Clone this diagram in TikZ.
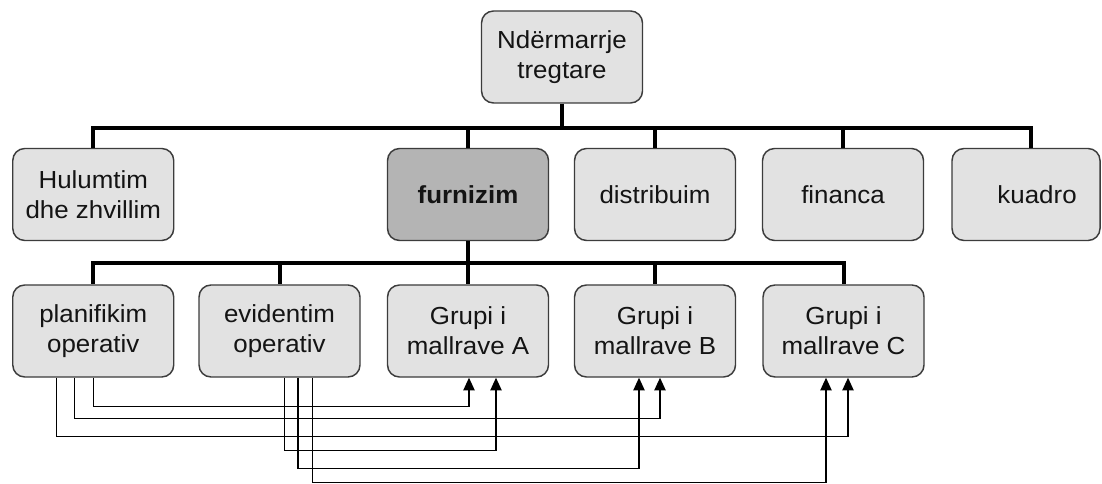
\documentclass[tikz,border=0pt]{standalone}
\usepackage{fontspec}
\setmainfont{Liberation Sans}[FakeStretch=1.05]
\usetikzlibrary{arrows.meta,calc}
\definecolor{boxfill}{HTML}{E2E2E2}
\definecolor{darkfill}{HTML}{B4B4B4}
\definecolor{edgecol}{HTML}{3C3C3C}
\begin{document}
\begin{tikzpicture}[x=0.75pt,y=-0.75pt,
  box/.style={draw=edgecol, line width=1.1pt, fill=boxfill, rounded corners=9pt,
    align=center, inner sep=0pt, minimum width=120.75pt, minimum height=69pt,
    font=\fontsize{18.5}{22.5}\selectfont, text=black!92},
  treeline/.style={line width=3pt, black},
  arr/.style={line width=1pt, black, -{Triangle[length=9.5pt,width=8.5pt]}}]
\fill[white] (0,0) rectangle (1102,484);
\useasboundingbox (0,0) rectangle (1102,484);

% top
\node[box] (top) at (562,57) {Ndërmarrje\\tregtare};
% level 2
\node[box] (hul) at (93.25,194.5) {Hulumtim\\dhe zhvillim};
\node[box, fill=darkfill, font=\fontsize{18.5}{22.5}\selectfont\bfseries] (fur) at (468,194.5) {furnizim};
\node[box] (dis) at (655,194.5) {distribuim};
\node[box] (fin) at (843,194.5) {financa};
\node[box, minimum width=111pt, text width=100pt, align=right] (kua) at (1026,194.5) {kuadro\hspace*{12pt}};
% level 3
\node[box] (plan) at (93.25,331) {planifikim\\operativ};
\node[box] (evi) at (279.5,331) {evidentim\\operativ};
\node[box] (ga) at (468,331) {Grupi i\\mallrave A};
\node[box] (gb) at (655,331) {Grupi i\\mallrave B};
\node[box] (gc) at (843.5,331) {Grupi i\\mallrave C};

% tree connectors
\draw[treeline] (top.south) -- ++(0,24) coordinate (b1);
\foreach \n in {hul,fur,dis,fin} \draw[treeline] (b1) -| (\n.north);
\draw[treeline] (b1) -| ($(kua.north)+(5,0)$);
\draw[treeline] (fur.south) -- ++(0,22) coordinate (b2);
\foreach \n in {plan,evi,ga,gb,gc} \draw[treeline] (b2) -| (\n.north);

% arrows
\draw[arr] (plan.south) -- ++(0,29) -| ($(ga.south)+(1,0)$);
\draw[arr] ($(plan.south)+(-19,0)$) -- ++(0,41) -| ($(gb.south)+(5,0)$);
\draw[arr] ($(plan.south)+(-37,0)$) -- ++(0,59) -| ($(gc.south)+(4.5,0)$);
\draw[arr] ($(evi.south)+(5,0)$) -- ++(0,73) -| ($(ga.south)+(28,0)$);
\draw[arr] ($(evi.south)+(18.5,0)$) -- ++(0,91) -| ($(gb.south)+(-16,0)$);
\draw[arr] ($(evi.south)+(33,0)$) -- ++(0,105) -| ($(gc.south)+(-17.5,0)$);
\end{tikzpicture}
\end{document}
